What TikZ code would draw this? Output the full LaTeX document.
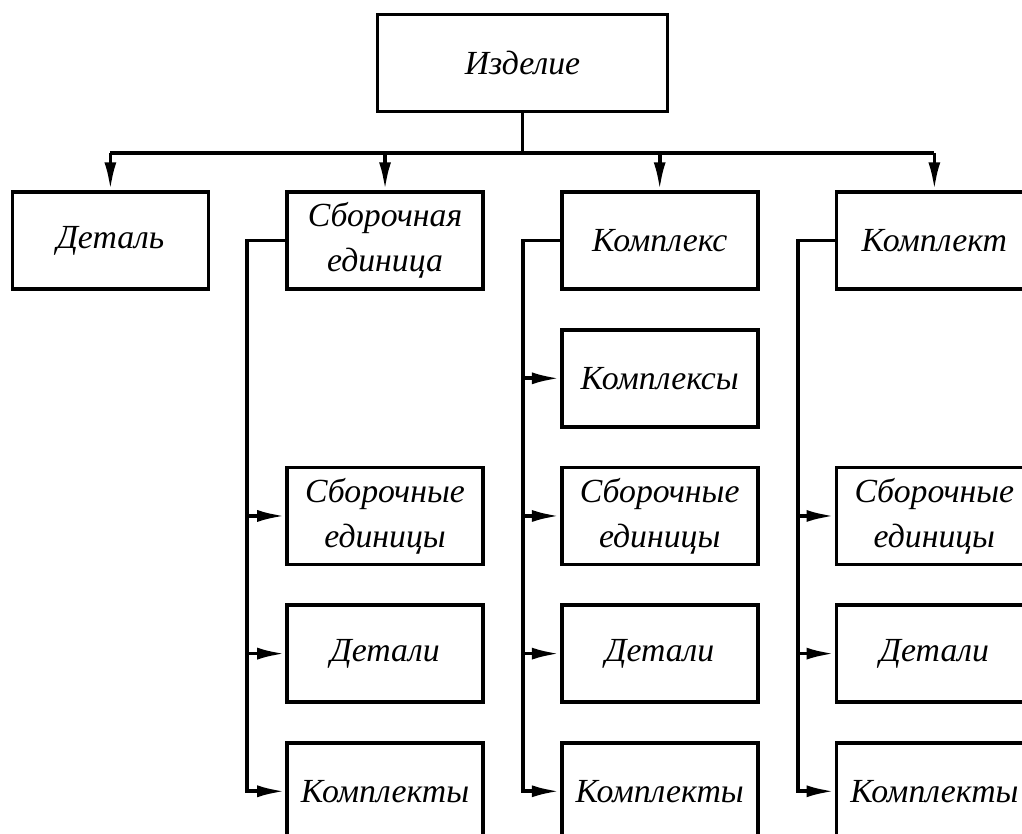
\documentclass[tikz,border=0pt]{standalone}
\usepackage{fontspec}
\setmainfont{Liberation Serif}
\usetikzlibrary{arrows.meta, positioning, calc}

\begin{document}
\begin{tikzpicture}[
    box/.style={draw, line width=2.6pt, minimum width=4.9cm, minimum height=2.425cm,
                align=center, inner sep=2pt, font=\fontsize{24}{32}\selectfont\itshape},
    arrow/.style={-{Latex[length=0.7cm, width=0.3cm]}, line width=2.6pt},
    line/.style={line width=2.6pt},
    node distance=0.925cm and 1.875cm,
]
\useasboundingbox (-13.0625,-19.275) rectangle (12.4875,1.575);
\clip (-13.0625,-19.275) rectangle (12.4875,1.575);
\node[box, minimum width=7.25cm] (izd) {Изделие};
\node[box, below left=1.925cm and -2.73cm of izd] (sb) {Сборочная\\единица};
\node[box, left=of sb] (det) {Деталь};
\node[box, right=of sb] (kx) {Комплекс};
\node[box, right=of kx] (kt) {Комплект};
% состав комплекса
\node[box, below=of kx] (kx1) {Комплексы};
\node[box, below=of kx1] (kx2) {Сборочные\\единицы};
\node[box, below=of kx2] (kx3) {Детали};
\node[box, below=of kx3] (kx4) {Комплекты};
% состав сборочной единицы
\node[box, left=of kx2] (sb2) {Сборочные\\единицы};
\node[box, left=of kx3] (sb3) {Детали};
\node[box, left=of kx4] (sb4) {Комплекты};
% состав комплекта
\node[box, right=of kx2] (kt2) {Сборочные\\единицы};
\node[box, right=of kx3] (kt3) {Детали};
\node[box, right=of kx4] (kt4) {Комплекты};
% связи
\coordinate (bus) at ($(izd.south)+(0,-1)$);
\draw[line] (izd) -- (bus);
\draw[line] (det |- bus) -- (kt |- bus);
\foreach \n in {det, sb, kx, kt}
    \draw[arrow] (\n |- bus) -- (\n);
\draw[arrow] (sb.west) -- ++(-0.95,0) coordinate (sbl) |- (sb4.west);
\draw[arrow] (sbl |- sb2.west) -- (sb2.west);
\draw[arrow] (sbl |- sb3.west) -- (sb3.west);
\draw[arrow] (kx.west) -- ++(-0.92,0) coordinate (kxl) |- (kx4.west);
\draw[arrow] (kxl |- kx1.west) -- (kx1.west);
\draw[arrow] (kxl |- kx2.west) -- (kx2.west);
\draw[arrow] (kxl |- kx3.west) -- (kx3.west);
\draw[arrow] (kt.west) -- ++(-0.92,0) coordinate (ktl) |- (kt4.west);
\draw[arrow] (ktl |- kt2.west) -- (kt2.west);
\draw[arrow] (ktl |- kt3.west) -- (kt3.west);
\end{tikzpicture}
\end{document}
